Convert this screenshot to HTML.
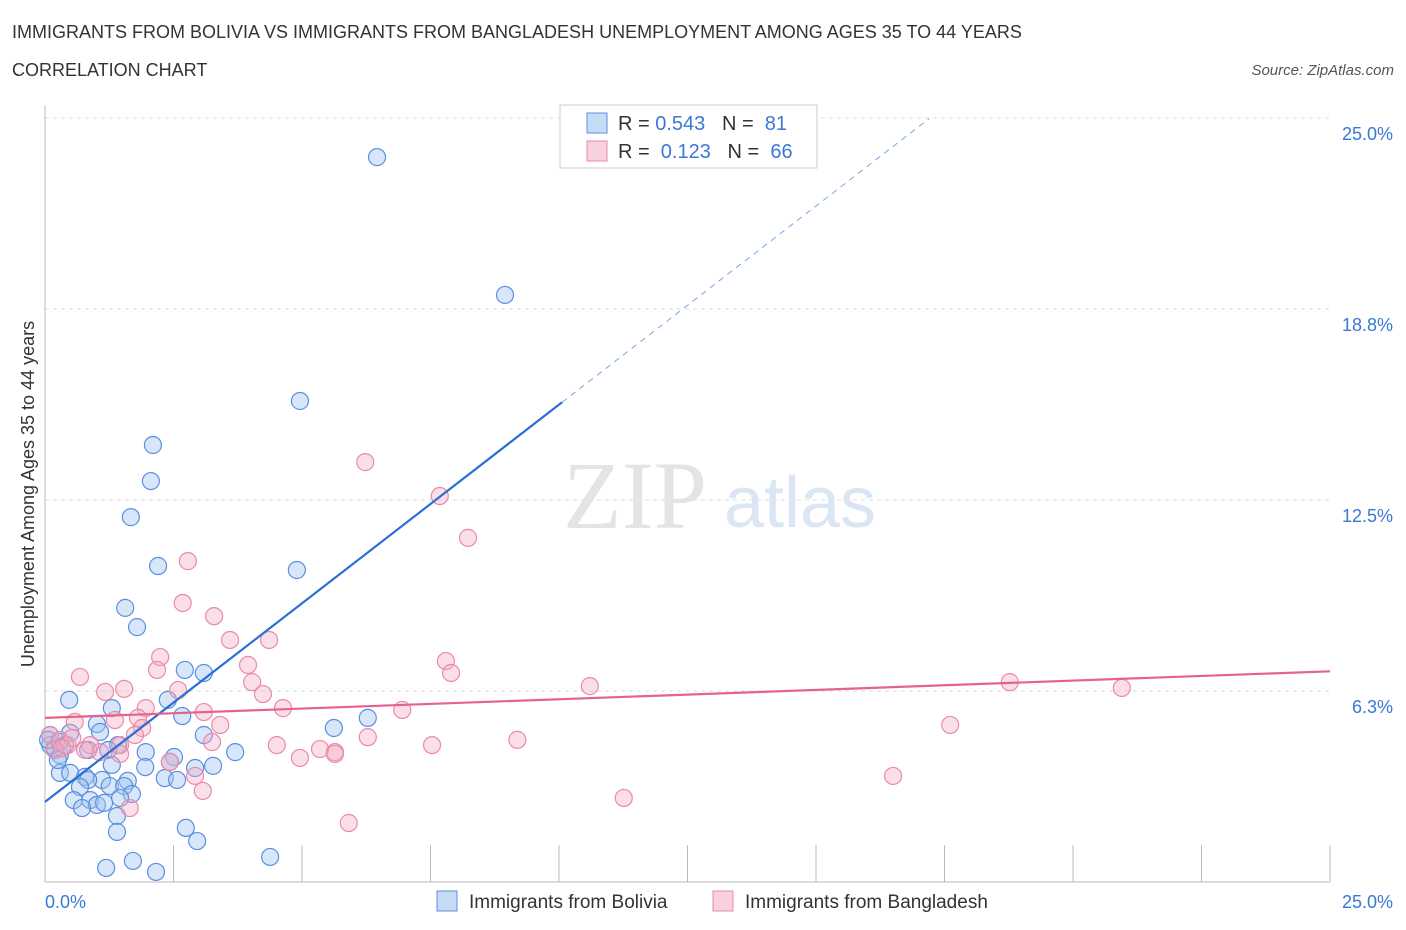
<!DOCTYPE html>
<html><head><meta charset="utf-8"><style>
body{margin:0;background:#fff;font-family:"Liberation Sans",sans-serif;}
#wrap{position:relative;width:1406px;height:930px;overflow:hidden}
.t{position:absolute;white-space:nowrap}
</style></head><body><div id="wrap">
<div class="t" style="left:12px;top:22px;font-size:18px;color:#333">IMMIGRANTS FROM BOLIVIA VS IMMIGRANTS FROM BANGLADESH UNEMPLOYMENT AMONG AGES 35 TO 44 YEARS</div>
<div class="t" style="left:12px;top:60px;font-size:18px;color:#333">CORRELATION CHART</div>
<div class="t" style="right:12px;top:62px;font-size:15px;color:#555;font-style:italic">Source: ZipAtlas.com</div>
<svg id="svg" width="1406" height="930" style="position:absolute;left:0;top:0"></svg>
</div>
<script>
const xTicks=[0,25];
const yTicks=[6.25,12.5,18.75,25];
const yTickLabels=["6.3%","12.5%","18.8%","25.0%"];
const xTickLabels=["0.0%","25.0%"];
const bolX=[6.46,8.95,4.96,2.10,2.06,1.67,2.20,4.90,1.56,1.79,2.72,3.09,2.39,0.47,2.67,1.30,1.01,6.28,5.62,3.09,3.70,0.10,0.49,1.07,1.42,1.96,2.51,0.84,0.29,1.95,3.27,2.92,2.43,0.29,0.49,0.78,1.11,1.61,2.33,2.57,0.84,0.68,1.26,1.54,1.69,1.46,0.56,0.88,1.01,1.15,0.72,1.40,2.74,1.40,2.96,4.38,1.71,1.19,2.16,0.10,0.19,0.06,0.29,0.39,1.23,1.30,0.25];
const bolY=[23.72,19.21,15.74,14.30,13.12,11.94,10.34,10.21,8.97,8.34,6.94,6.84,5.96,5.96,5.43,5.69,5.17,5.37,5.04,4.81,4.25,4.81,4.88,4.91,4.48,4.25,4.09,4.32,4.16,3.76,3.80,3.73,3.93,3.57,3.57,3.44,3.34,3.31,3.40,3.34,3.34,3.11,3.14,3.14,2.88,2.75,2.68,2.68,2.52,2.59,2.42,2.16,1.77,1.64,1.34,0.82,0.69,0.46,0.33,4.48,4.38,4.65,4.58,4.48,4.32,3.83,3.99];
const banX=[6.23,7.68,8.23,2.78,2.68,3.29,3.60,4.36,2.24,0.68,2.18,3.95,7.80,7.90,4.03,1.54,1.17,2.59,4.24,10.60,18.77,20.95,1.96,3.09,4.63,6.95,1.81,3.41,1.36,0.58,1.89,17.61,1.75,6.28,9.19,1.46,3.25,4.51,5.35,7.53,5.64,5.64,4.96,1.07,1.46,2.43,2.92,16.50,3.07,11.26,5.91,1.65,0.10,0.29,0.44,0.53,0.19,0.33,0.88,0.78];
const banY=[13.74,12.63,11.26,10.50,9.13,8.70,7.92,7.92,7.36,6.71,6.94,7.10,7.23,6.84,6.54,6.32,6.22,6.28,6.15,6.41,6.54,6.35,5.69,5.56,5.69,5.63,5.37,5.14,5.30,5.24,5.04,5.14,4.81,4.74,4.65,4.48,4.58,4.48,4.35,4.48,4.25,4.19,4.06,4.25,4.19,3.93,3.47,3.47,2.98,2.75,1.93,2.42,4.81,4.65,4.48,4.71,4.32,4.38,4.48,4.32];
const bolTrend=[2.62,1.30]; // intercept, slope
const banTrend=[5.37,0.061];
const sx=v=>45+v*51.4, sy=v=>882-v*30.56;
const NS="http://www.w3.org/2000/svg", svg=document.getElementById('svg');
function mk(t,a,p){const e=document.createElementNS(NS,t);for(const k in a)e.setAttribute(k,a[k]);(p||svg).appendChild(e);return e;}
// grid
yTicks.forEach((v,i)=>{
 const g=mk('line',{x1:45,x2:1330,y1:sy(v),y2:sy(v),stroke:'#ddd','stroke-dasharray':'4,4'});
 
 
 const t=mk('text',{x:1393,y:sy(v)+22,'text-anchor':'end','font-size':18,fill:'#3a78d8','font-family':'Liberation Sans'});
 t.textContent=yTickLabels[i];
 
 
});
const ax=mk('line',{x1:45,x2:1330,y1:882,y2:882,stroke:'#bbb'});


const ay=mk('line',{x1:45,x2:45,y1:105,y2:882,stroke:'#bbb'});


for(let i=0;i<=10;i++){const tk=mk('line',{x1:sx(i*2.5),x2:sx(i*2.5),y1:845,y2:882,stroke:'#bbb'});
 
 }
xTicks.forEach((v,i)=>{const t=mk('text',{x:i?1393:45,y:908,'text-anchor':i?'end':'start','font-size':18,fill:'#3a78d8','font-family':'Liberation Sans'});t.textContent=xTickLabels[i];
 
 });
const yt=mk('text',{x:34,y:494,transform:'rotate(-90 34 494)','text-anchor':'middle','font-size':18,fill:'#333','font-family':'Liberation Sans'});yt.textContent='Unemployment Among Ages 35 to 44 years';


// watermark
const w1=mk('text',{x:635,y:528,'text-anchor':'middle','font-size':96,fill:'#e4e4e4','font-family':'Liberation Serif'});w1.textContent='ZIP';


const w2=mk('text',{x:800,y:527,'text-anchor':'middle','font-size':72,fill:'#dbe6f5','font-family':'Liberation Sans'});w2.textContent='atlas';


// points
bolX.forEach((x,i)=>{const c=mk('circle',{cx:sx(x),cy:sy(bolY[i]),r:8.5,fill:'rgba(160,196,240,0.42)',stroke:'#5b8fdf','stroke-width':1.2});
 
 });
banX.forEach((x,i)=>{const c=mk('circle',{cx:sx(x),cy:sy(banY[i]),r:8.5,fill:'rgba(244,170,195,0.38)',stroke:'#e98aa8','stroke-width':1.2});
 
 });
// trends
const bl=mk('line',{x1:sx(0),y1:sy(bolTrend[0]),x2:sx(10.06),y2:sy(bolTrend[0]+bolTrend[1]*10.06),stroke:'#2a6fd6','stroke-width':2.2});


const bd=mk('line',{x1:sx(10.06),y1:sy(bolTrend[0]+bolTrend[1]*10.06),x2:sx(17.2),y2:sy(bolTrend[0]+bolTrend[1]*17.2),stroke:'#7aa6e6','stroke-width':1,'stroke-dasharray':'6,5'});


const pl=mk('line',{x1:sx(0),y1:sy(banTrend[0]),x2:sx(25),y2:sy(banTrend[0]+banTrend[1]*25),stroke:'#e5628e','stroke-width':2.2});


// legend
const lb=mk('rect',{x:560,y:105,width:257,height:63,fill:'#fff',stroke:'#ccc'});


[[0,'rgba(160,196,240,0.6)','#5b8fdf','0.543','81'],[1,'rgba(244,170,195,0.55)','#e98aa8','0.123','66']].forEach(r=>{
 const y=123+r[0]*28;
 const s=mk('rect',{x:587,y:y-10,width:20,height:20,fill:r[1],stroke:r[2]});
 
 
 const t=mk('text',{x:618,y:y+7,'font-size':20,fill:'#333','font-family':'Liberation Sans'});
 t.innerHTML='R = <tspan fill="#3a78d8">'+(r[0]?' ':'')+r[3]+'</tspan>   N = <tspan fill="#3a78d8"> '+r[4]+'</tspan>';
 t.setAttribute('xml:space','preserve');t.style.whiteSpace='pre';
 
 
});
// bottom legend
[[437,'rgba(160,196,240,0.6)','#5b8fdf','Immigrants from Bolivia'],[713,'rgba(244,170,195,0.55)','#e98aa8','Immigrants from Bangladesh']].forEach(r=>{
 const s=mk('rect',{x:r[0],y:891,width:20,height:20,fill:r[1],stroke:r[2]});
 
 
 const t=mk('text',{x:r[0]+32,y:908,'font-size':19,fill:'#333','font-family':'Liberation Sans'});t.textContent=r[3];
 
 
});
</script></body></html>
